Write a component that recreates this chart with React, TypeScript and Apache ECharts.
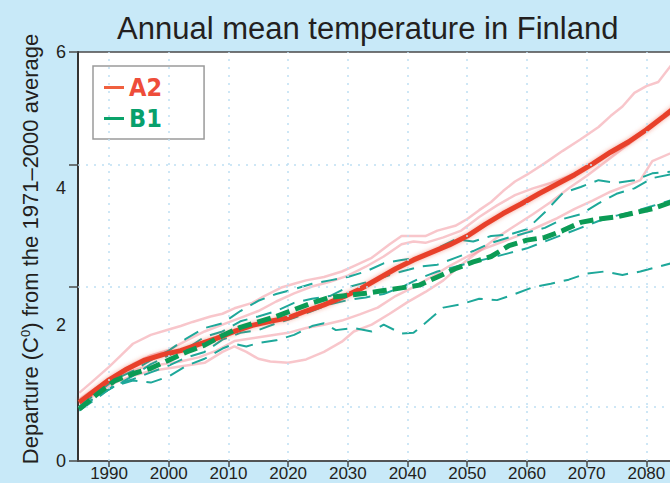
import React, { useEffect, useRef } from "react";
import * as echarts from "echarts";

const titleText = "Annual mean temperature in Finland";
const yAxisTitle = "Departure (C{s|0}) from the 1971–2000 average";

const xLabelValues = [1990, 2000, 2010, 2020, 2030, 2040, 2050, 2060, 2070, 2080];
const yLabelValues = [0, 2, 4, 6];
const yTickValues = [0, 2.55, 4.34, 6];
const gridYValues = [0.79, 2.55, 4.34];
const gridXValues = [1990, 2000, 2010, 2020, 2030, 2040, 2050, 2060, 2070, 2080];

const a2Mean = [[1985,0.86],[1988,1.06],[1990,1.19],[1993,1.35],[1996,1.48],[1999,1.56],[2002,1.62],[2005,1.71],[2008,1.8],[2011,1.9],[2014,1.99],[2017,2.05],[2020,2.1],[2023,2.2],[2026,2.29],[2029,2.4],[2032,2.52],[2035,2.67],[2038,2.82],[2041,2.95],[2044,3.06],[2047,3.17],[2050,3.3],[2053,3.47],[2056,3.63],[2059,3.77],[2062,3.92],[2065,4.06],[2068,4.2],[2071,4.36],[2074,4.53],[2077,4.68],[2080,4.86],[2083,5.06],[2085,5.2]];

const a2Run1 = [[1985,1.0],[1987,1.15],[1990,1.38],[1992,1.55],[1994,1.72],[1997,1.85],[2000,1.93],[2002,1.98],[2004,2.04],[2007,2.12],[2009,2.16],[2011,2.24],[2014,2.32],[2016,2.42],[2019,2.55],[2021,2.6],[2023,2.65],[2026,2.7],[2029,2.78],[2031,2.86],[2034,2.98],[2037,3.18],[2039,3.3],[2041,3.3],[2043,3.3],[2045,3.38],[2048,3.45],[2050,3.55],[2052,3.68],[2054,3.8],[2056,3.96],[2058,4.1],[2060,4.2],[2063,4.37],[2066,4.55],[2069,4.72],[2072,4.9],[2074,5.06],[2076,5.2],[2078,5.4],[2080,5.5],[2082,5.56],[2085,5.9]];
const a2Run2 = [[1985,0.88],[1988,1.05],[1991,1.26],[1994,1.42],[1997,1.55],[2000,1.63],[2003,1.77],[2006,1.9],[2009,2.0],[2012,2.1],[2015,2.2],[2018,2.34],[2021,2.46],[2024,2.56],[2027,2.63],[2030,2.72],[2033,2.85],[2036,3.0],[2039,3.18],[2041,3.22],[2043,3.2],[2046,3.28],[2049,3.38],[2052,3.58],[2055,3.75],[2058,3.9],[2061,4.0],[2064,4.08],[2067,4.18],[2070,4.3],[2073,4.48],[2076,4.65],[2079,4.8],[2082,5.0],[2085,5.18]];
const a2Run3 = [[1985,0.9],[1988,1.08],[1990,1.2],[1993,1.3],[1996,1.38],[1999,1.42],[2002,1.46],[2005,1.52],[2008,1.62],[2011,1.76],[2014,1.8],[2017,1.84],[2020,1.88],[2023,1.95],[2026,2.0],[2029,2.06],[2032,2.15],[2035,2.25],[2038,2.42],[2041,2.55],[2044,2.7],[2047,2.86],[2050,3.0],[2053,3.12],[2056,3.22],[2059,3.32],[2062,3.44],[2065,3.56],[2068,3.7],[2071,3.82],[2074,3.95],[2077,4.05],[2079,4.12],[2081,4.4],[2085,4.55]];
const a2Run4 = [[1985,0.84],[1988,1.0],[1991,1.15],[1994,1.25],[1997,1.32],[2000,1.36],[2003,1.4],[2006,1.44],[2009,1.6],[2011,1.68],[2013,1.6],[2015,1.5],[2017,1.46],[2020,1.44],[2023,1.49],[2026,1.6],[2029,1.75],[2031,1.9],[2034,2.0],[2037,2.16],[2040,2.33],[2043,2.48],[2046,2.65],[2049,2.88],[2052,3.08],[2055,3.28],[2058,3.45],[2061,3.62],[2064,3.8],[2067,4.0],[2070,4.18],[2073,4.38],[2076,4.58],[2079,4.78],[2082,4.98],[2085,5.15]];

const b1Mean = [[1985,0.76],[1988,0.98],[1991,1.18],[1994,1.28],[1997,1.36],[2000,1.48],[2003,1.6],[2006,1.7],[2009,1.84],[2012,1.96],[2015,2.04],[2018,2.12],[2021,2.22],[2024,2.32],[2027,2.4],[2030,2.43],[2033,2.46],[2036,2.5],[2039,2.54],[2042,2.58],[2045,2.7],[2048,2.82],[2051,2.92],[2054,3.0],[2057,3.16],[2060,3.24],[2063,3.28],[2066,3.38],[2069,3.5],[2072,3.55],[2075,3.58],[2078,3.64],[2081,3.7],[2085,3.82]];

const b1Run1 = [[1985,0.8],[1988,1.0],[1991,1.2],[1994,1.32],[1997,1.48],[2000,1.62],[2003,1.8],[2006,1.95],[2009,2.02],[2012,2.2],[2015,2.35],[2018,2.45],[2021,2.52],[2024,2.6],[2027,2.65],[2030,2.7],[2033,2.78],[2036,2.9],[2039,2.95],[2042,2.98],[2045,3.12],[2048,3.25],[2051,3.22],[2054,3.3],[2057,3.32],[2060,3.4],[2063,3.65],[2066,3.93],[2069,4.02],[2072,4.12],[2075,4.08],[2078,4.12],[2081,4.22],[2085,4.25]];
const b1Run2 = [[1985,0.78],[1988,0.95],[1991,1.1],[1994,1.25],[1997,1.42],[2000,1.55],[2003,1.65],[2006,1.82],[2009,1.9],[2012,2.05],[2015,2.12],[2018,2.2],[2021,2.32],[2024,2.38],[2027,2.42],[2030,2.55],[2033,2.62],[2036,2.7],[2039,2.78],[2042,2.85],[2045,2.88],[2048,2.98],[2051,3.08],[2054,3.2],[2057,3.28],[2060,3.35],[2063,3.42],[2066,3.55],[2069,3.62],[2072,3.78],[2075,3.92],[2078,4.0],[2081,4.15],[2085,4.22]];
const b1Run3 = [[1985,0.74],[1988,0.92],[1991,1.12],[1994,1.2],[1997,1.3],[2000,1.4],[2003,1.52],[2006,1.6],[2009,1.78],[2012,1.88],[2015,1.92],[2018,2.02],[2021,2.1],[2024,2.2],[2027,2.3],[2030,2.36],[2033,2.4],[2036,2.45],[2039,2.55],[2042,2.68],[2045,2.78],[2048,2.85],[2051,2.92],[2054,2.98],[2057,3.05],[2060,3.12],[2063,3.22],[2066,3.32],[2069,3.42],[2072,3.52],[2075,3.6],[2078,3.66],[2081,3.74],[2085,3.85]];
const b1Run4 = [[1985,0.76],[1988,0.95],[1991,1.1],[1994,1.18],[1997,1.15],[2000,1.24],[2003,1.4],[2006,1.5],[2009,1.65],[2011,1.72],[2013,1.68],[2015,1.73],[2018,1.77],[2021,1.85],[2024,1.98],[2026,2.02],[2028,1.92],[2031,1.95],[2034,1.9],[2036,2.0],[2039,1.87],[2041,1.88],[2044,2.1],[2046,2.25],[2049,2.3],[2052,2.38],[2055,2.36],[2058,2.45],[2061,2.55],[2064,2.6],[2067,2.66],[2070,2.75],[2073,2.78],[2076,2.73],[2079,2.78],[2082,2.85],[2085,2.92]];

const a2Runs = [a2Run1, a2Run2, a2Run3, a2Run4];
const b1Runs = [b1Run1, b1Run2, b1Run3, b1Run4];

const RED = "#e8402a";
const PINK = "rgba(238, 120, 130, 0.42)";
const GREEN = "#0b9b55";
const TEAL = "#1ea89a";
const GRIDC = "#bfe0f3";

export default function App() {
  const ref = useRef<HTMLDivElement>(null);
  useEffect(() => {
    document.body.style.margin = "0";
    const chart = echarts.init(ref.current!, null, { renderer: "svg" });
    const font = "'Liberation Sans', Arial, sans-serif";
    const series: any[] = [];
    a2Runs.forEach((d, i) => {
      series.push({
        type: "line", name: "A2 run " + (i + 1), data: d, showSymbol: false, silent: true, z: 2,
        lineStyle: { color: PINK, width: 2.5 },
        ...(i === 0 ? {
          markLine: {
            silent: true, symbol: "none", label: { show: false },
            lineStyle: { color: GRIDC, type: [2, 6], width: 1.5 },
            data: [
              ...gridYValues.map((v) => ({ yAxis: v })),
              ...gridXValues.map((v) => ({ xAxis: v })),
            ],
          },
        } : {}),
      });
    });
    b1Runs.forEach((d, i) => {
      series.push({
        type: "line", name: "B1 run " + (i + 1), data: d, showSymbol: false, silent: true, z: 3,
        lineStyle: { color: TEAL, width: 2, type: [16, 9] },
      });
    });
    series.push({
      type: "line", name: "A2", data: a2Mean, showSymbol: false, z: 4,
      itemStyle: { color: RED },
      lineStyle: { color: RED, width: 5, shadowColor: "rgba(232,64,42,0.5)", shadowBlur: 4 },
    });
    series.push({
      type: "line", name: "B1", data: b1Mean, showSymbol: false, z: 5,
      itemStyle: { color: GREEN },
      lineStyle: { color: GREEN, width: 5, type: [14, 6] },
    });

    chart.setOption({
      animation: false,
      backgroundColor: "#c8e9f8",
      title: {
        text: titleText, left: 112, top: 8,
        textStyle: { fontFamily: font, fontSize: 31, fontWeight: "normal", color: "#231f20" },
      },
      legend: {
        orient: "vertical", left: 93, top: 66,
        backgroundColor: "#ffffff", borderColor: "#9a9a9a", borderWidth: 1.5, borderRadius: 0,
        padding: [9, 42, 8, 11], itemGap: 6, itemWidth: 20, itemHeight: 3, icon: "rect",
        selectedMode: false,
        textStyle: { fontFamily: "'Liberation Sans Narrow', 'DejaVu Sans Condensed', sans-serif", fontSize: 25, fontWeight: "bold" },
        data: [
          { name: "A2", itemStyle: { color: "#f0603f", borderWidth: 0, shadowBlur: 0 }, textStyle: { color: "#ee4d3a" } },
          { name: "B1", itemStyle: { color: "#0aa36a", borderWidth: 0, shadowBlur: 0 }, textStyle: { color: "#07a06c" } },
        ],
      },
      grid: {
        left: 78, top: 52, right: -2, bottom: 22, show: true,
        outerBoundsMode: "none", containLabel: false,
        backgroundColor: "#ffffff", borderColor: "#4a4a4a", borderWidth: 1.5,
      },
      xAxis: {
        type: "value", min: 1984.8, max: 2084.3,
        axisLine: { show: true, lineStyle: { color: "#4a4a4a", width: 1.5 } },
        axisTick: { show: true, length: 6, customValues: xLabelValues, lineStyle: { color: "#4a4a4a", width: 1.5 } },
        axisLabel: {
          customValues: xLabelValues, fontFamily: font, fontSize: 17, color: "#231f20", margin: 4,
          formatter: (v: number) => String(v),
        },
        splitLine: { show: false },
      },
      yAxis: {
        type: "value", min: 0, max: 6,
        axisLine: { show: true, lineStyle: { color: "#333333", width: 2 } },
        axisTick: { show: true, length: 9, customValues: yTickValues, lineStyle: { color: "#4a4a4a", width: 1.5 } },
        axisLabel: { customValues: yLabelValues, fontFamily: font, fontSize: 18, color: "#231f20", margin: 12 },
        splitLine: { show: false },
      },
      graphic: [
        {
          type: "text", x: 30, y: 249, rotation: Math.PI / 2,
          style: {
            text: yAxisTitle, fontFamily: font, fontSize: 22, fill: "#231f20",
            align: "center", verticalAlign: "middle",
            rich: { s: { fontSize: 13, verticalAlign: "top", fill: "#231f20", fontFamily: font } },
          },
        },
      ],
      series,
    });
    return () => chart.dispose();
  }, []);
  return <div ref={ref} style={{ width: 670, height: 483 }} />;
}
